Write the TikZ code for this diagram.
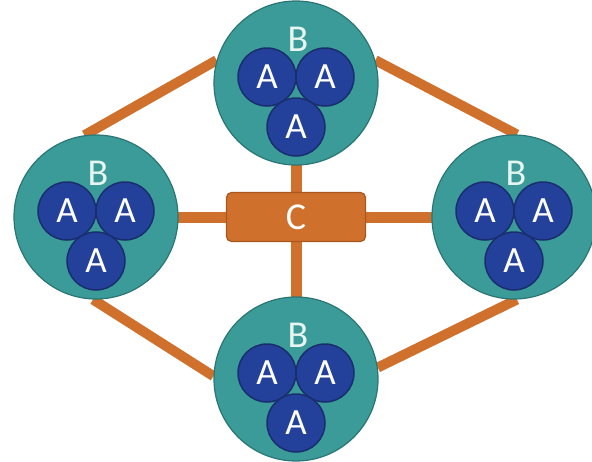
\documentclass[tikz,border=0pt]{standalone}
\usepackage{fontspec}
\setmainfont{Carlito}
\usetikzlibrary{backgrounds}
\definecolor{tealfill}{HTML}{3A9B98}
\definecolor{tealdraw}{HTML}{2B7674}
\definecolor{bluefill}{HTML}{23419A}
\definecolor{bluedraw}{HTML}{1A2E6E}
\definecolor{orangeline}{HTML}{CF702C}
\definecolor{orangedraw}{HTML}{A9561F}
\definecolor{btext}{HTML}{E6F5F0}
\tikzset{
  bcircle/.style={circle, fill=tealfill, draw=tealdraw, line width=1.2pt, minimum size=164pt, inner sep=0pt},
  acircle/.style={circle, fill=bluefill, draw=bluedraw, line width=1.5pt, minimum size=58pt, inner sep=0pt, text=white, font=\fontsize{37}{37}\selectfont},
  blabel/.style={text=btext, font=\fontsize{38}{38}\selectfont, inner sep=0pt},
  cbox/.style={rectangle, rounded corners=5pt, fill=orangeline, draw=orangedraw, line width=1.2pt, minimum width=139pt, minimum height=49pt, text=white, font=\fontsize{38}{38}\selectfont},
  link/.style={orangeline, line width=10pt},
  cross/.style={orangeline, line width=11pt},
  pics/cluster/.style={code={
    \node[acircle] (-a1) at (-29,-6) {A};
    \node[acircle] (-a2) at (29,-6) {A};
    \node[acircle] (-a3) at (0,44) {A};
    \node[blabel] (-b) at (2,-44) {B};
  }}
}
\begin{document}
\begin{tikzpicture}[x=1pt,y=-1pt]
\useasboundingbox (0,0) rectangle (592,461);
\node[bcircle] (T) at (296,83) {};
\node[bcircle] (L) at (96,217) {};
\node[bcircle] (R) at (514,217) {};
\node[bcircle] (D) at (296,379) {};
\node[cbox] (C) at (296,217) {C};
\pic (t) at (T.center) {cluster};
\pic (l) at (L.center) {cluster};
\pic (r) at (R.center) {cluster};
\pic (d) at (D.center) {cluster};
\begin{pgfonlayer}{background}
\draw[cross] (C.center) -- (T.center);
\draw[cross] (C.center) -- (D.center);
\draw[cross] (C.center) -- (L.center);
\draw[cross] (C.center) -- (R.center);
\draw[link] (L.98) -- (T.164);
\draw[link] (T.16) -- (R.88);
\draw[link] (R.-88) -- (D.8);
\draw[link] (L.-92) -- (D.178);
\end{pgfonlayer}
\end{tikzpicture}
\end{document}
